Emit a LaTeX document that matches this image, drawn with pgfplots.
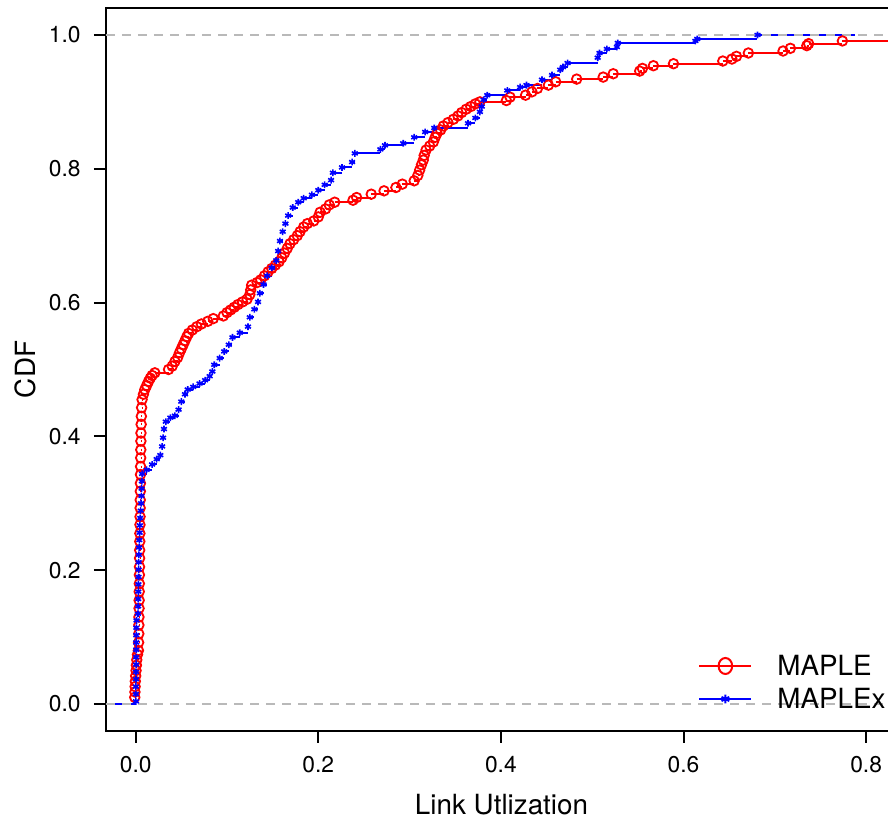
\documentclass[border=0pt]{standalone}
\usepackage{fontspec}
\setmainfont{TeX Gyre Heros}
\usepackage{pgfplots}
\pgfplotsset{compat=1.18}
\definecolor{refgray}{RGB}{185,185,185}
\begin{document}
\begin{tikzpicture}
\begin{axis}[
  scale only axis, width=395.5pt, height=361.5pt,
  xmin=-0.0325, xmax=0.8338, ymin=-0.0403, ymax=1.0403,
  axis line style={line width=1pt},
  tick align=outside, xtick pos=bottom, ytick pos=left,
  major tick length=6pt, every tick/.style={black, line width=1pt},
  xtick={0,0.2,0.4,0.6,0.8}, xticklabels={0.0,0.2,0.4,0.6,0.8},
  ytick={0,0.2,0.4,0.6,0.8,1}, yticklabels={0.0,0.2,0.4,0.6,0.8,1.0},
  tick label style={font=\fontsize{11.4}{13}\selectfont},
  xticklabel style={yshift=-3.2pt},
  yticklabel style={xshift=-3.2pt},
  xlabel={Link Utlization}, ylabel={CDF},
  every axis x label/.style={at={(axis description cs:0.5,-0.1024)}, anchor=center, font=\fontsize{13.9}{16}\selectfont},
  every axis y label/.style={at={(axis description cs:-0.1024,0.5)}, rotate=90, anchor=center, font=\fontsize{13.9}{16}\selectfont},
  legend style={draw=none, fill=none, inner sep=0pt, font=\fontsize{13.9}{16}\selectfont,
    at={(axis description cs:0.7484,0.1043)}, anchor=north west, row sep=6.5pt, column sep=12.5pt,
    nodes={inner sep=0pt, text height=10pt, text depth=0pt}},
  legend cell align=left,
  legend image code/.code={\draw[#1,mark=none] (0pt,0pt) -- (26pt,0pt);
    \draw[#1] plot coordinates {(13pt,0pt)};},
]
% MAPLE
\addplot[red, line width=1pt, mark=o, mark size=2.4pt, mark options={line width=0.9pt}, jump mark left, forget plot] coordinates {
(-0.0010,0.010)(-0.0008,0.018)(-0.0006,0.026)(-0.0004,0.034)(0.0000,0.042)(0.0004,0.050)(0.0008,0.058)(0.0012,0.066)(0.0020,0.074)
(0.0030,0.080)(0.0032,0.092)(0.0034,0.105)(0.0035,0.118)(0.0036,0.130)(0.0037,0.143)(0.0038,0.155)(0.0039,0.168)(0.0040,0.180)
(0.0041,0.193)(0.0042,0.205)(0.0043,0.218)(0.0044,0.230)(0.0045,0.243)(0.0046,0.255)(0.0047,0.268)(0.0048,0.280)(0.0049,0.293)
(0.0050,0.305)(0.0051,0.318)(0.0052,0.330)(0.0053,0.343)(0.0054,0.355)(0.0055,0.368)(0.0056,0.380)(0.0057,0.393)(0.0058,0.405)
(0.0060,0.418)(0.0062,0.430)(0.0065,0.443)(0.0070,0.455)(0.0085,0.463)(0.010,0.470)(0.012,0.476)(0.014,0.482)(0.016,0.487)
(0.018,0.491)(0.021,0.495)(0.036,0.500)(0.040,0.505)(0.043,0.512)(0.046,0.518)(0.048,0.525)(0.050,0.531)(0.052,0.537)
(0.054,0.543)(0.056,0.549)(0.058,0.554)(0.062,0.559)(0.067,0.564)(0.072,0.568)(0.079,0.572)(0.085,0.576)(0.096,0.580)
(0.100,0.585)(0.104,0.589)(0.108,0.593)(0.112,0.597)(0.117,0.601)(0.122,0.605)(0.125,0.612)(0.126,0.619)(0.127,0.626)
(0.133,0.630)(0.137,0.634)(0.141,0.640)(0.145,0.646)(0.149,0.651)(0.153,0.656)(0.157,0.661)(0.160,0.667)(0.163,0.674)
(0.166,0.681)(0.169,0.688)(0.173,0.694)(0.177,0.700)(0.180,0.706)(0.184,0.713)(0.188,0.718)(0.195,0.722)(0.200,0.728)
(0.202,0.735)(0.208,0.740)(0.212,0.746)(0.218,0.750)(0.238,0.753)(0.242,0.757)(0.258,0.762)(0.272,0.767)(0.285,0.772)
(0.292,0.777)(0.305,0.782)(0.309,0.790)(0.311,0.798)(0.313,0.806)(0.315,0.813)(0.316,0.820)(0.318,0.828)(0.322,0.834)
(0.326,0.840)(0.328,0.847)(0.330,0.853)(0.334,0.858)(0.337,0.864)(0.342,0.869)(0.348,0.874)(0.353,0.879)(0.357,0.884)
(0.362,0.889)(0.367,0.893)(0.372,0.897)(0.377,0.900)(0.406,0.902)(0.410,0.907)(0.427,0.910)(0.434,0.915)(0.440,0.920)
(0.452,0.925)(0.460,0.930)(0.483,0.934)(0.512,0.937)(0.523,0.942)(0.552,0.946)(0.555,0.950)(0.567,0.954)(0.589,0.957)
(0.643,0.961)(0.653,0.964)(0.658,0.968)(0.671,0.973)(0.709,0.976)(0.717,0.980)(0.735,0.984)(0.737,0.987)(0.774,0.991)
};
\addplot[red, line width=1pt, forget plot] coordinates {(0.774,0.991)(0.86,0.991)};
% MAPLEx
\addplot[blue, line width=1pt, forget plot] coordinates {(-0.026,0)(0.0003,0)};
\addplot[blue, line width=1pt, mark=asterisk, mark size=1.7pt, mark options={line width=0.8pt}, jump mark left, forget plot] coordinates {
(0.0003,0.004)(0.0003,0.015)(0.0003,0.026)(0.0004,0.037)(0.0004,0.048)(0.0005,0.059)(0.0005,0.070)(0.0006,0.081)(0.0006,0.092)
(0.0007,0.103)(0.0008,0.114)(0.0010,0.125)(0.0025,0.135)(0.0027,0.146)(0.0028,0.157)(0.0029,0.168)(0.0030,0.179)(0.0031,0.190)
(0.0032,0.201)(0.0033,0.212)(0.0035,0.223)(0.0037,0.234)(0.0040,0.245)(0.0043,0.256)(0.0046,0.267)(0.0050,0.278)(0.0055,0.289)
(0.0060,0.300)(0.0063,0.311)(0.0065,0.322)(0.0068,0.333)(0.0070,0.344)
(0.012,0.350)(0.018,0.358)(0.023,0.366)(0.027,0.372)(0.029,0.385)(0.030,0.398)(0.031,0.411)(0.033,0.422)(0.038,0.428)
(0.043,0.431)(0.047,0.440)(0.050,0.452)(0.054,0.463)(0.057,0.470)(0.063,0.474)(0.070,0.479)(0.076,0.484)(0.081,0.490)
(0.084,0.497)(0.086,0.507)(0.092,0.517)(0.097,0.527)(0.102,0.537)(0.106,0.548)(0.114,0.555)(0.123,0.564)(0.125,0.578)
(0.130,0.590)(0.134,0.601)(0.136,0.614)(0.140,0.627)(0.144,0.640)(0.149,0.652)(0.154,0.663)(0.156,0.677)(0.158,0.692)
(0.161,0.706)(0.164,0.718)(0.167,0.730)(0.172,0.742)(0.178,0.750)(0.184,0.756)(0.193,0.761)(0.200,0.768)(0.207,0.776)
(0.214,0.783)(0.216,0.794)(0.226,0.802)(0.237,0.810)(0.240,0.823)(0.268,0.829)(0.273,0.835)(0.293,0.838)(0.305,0.847)
(0.317,0.855)(0.327,0.861)(0.364,0.868)(0.372,0.876)(0.377,0.885)(0.379,0.893)(0.381,0.903)(0.385,0.910)(0.407,0.917)
(0.421,0.922)(0.428,0.925)(0.445,0.933)(0.456,0.940)(0.465,0.948)(0.468,0.952)(0.473,0.958)(0.506,0.966)(0.508,0.973)
(0.516,0.979)(0.527,0.982)(0.528,0.988)(0.613,0.991)(0.615,0.994)(0.681,1.000)
};
\addplot[blue, line width=1pt, forget plot] coordinates {(0.681,1.0)(0.788,1.0)};
% reference lines
\addplot[refgray, line width=1pt, dash pattern=on 4.5pt off 3.5pt, forget plot] coordinates {(-0.0325,0)(0.8338,0)};
\addplot[refgray, line width=1pt, dash pattern=on 4.5pt off 3.5pt, forget plot] coordinates {(-0.0325,1)(0.8338,1)};
\addlegendimage{red, line width=1pt, mark=o, mark size=4pt, mark options={xscale=0.85, line width=1pt}}
\addlegendentry{MAPLE}
\addlegendimage{blue, line width=1pt, mark=asterisk, mark size=2.2pt, mark options={line width=0.9pt}}
\addlegendentry{MAPLEx}
\end{axis}
\pgfresetboundingbox
\useasboundingbox (-53pt,-45.5pt) rectangle (391pt,365.5pt);
\end{tikzpicture}
\end{document}
